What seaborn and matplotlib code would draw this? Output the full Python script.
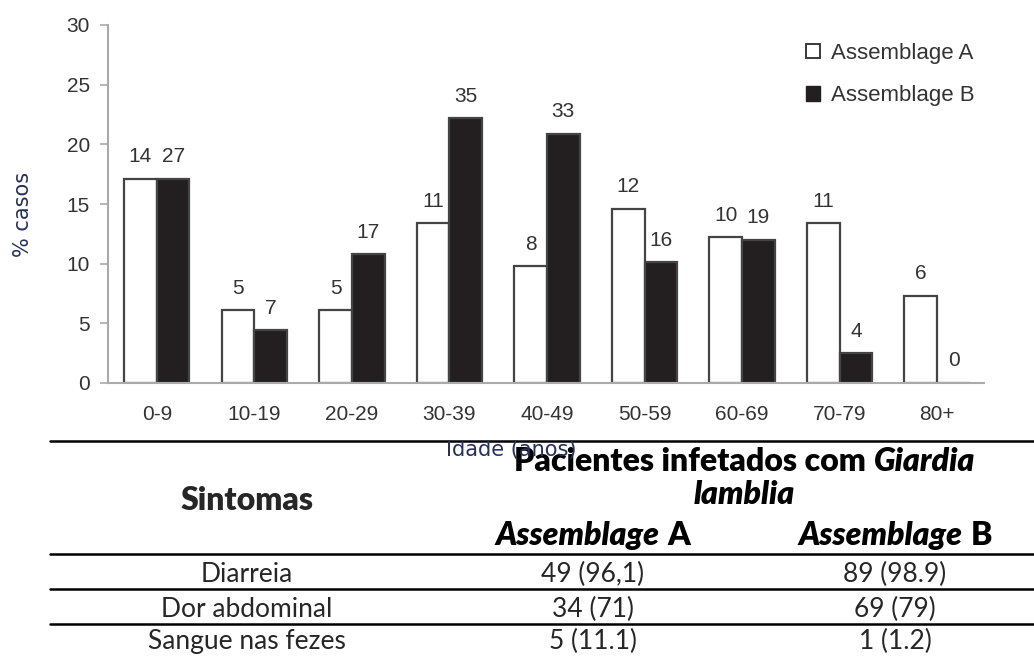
import matplotlib
matplotlib.use("Agg")
import matplotlib.pyplot as plt
import seaborn as sns
import pandas as pd
from matplotlib.patches import Patch
from matplotlib.lines import Line2D

# --- data ---
age_groups = ['0-9', '10-19', '20-29', '30-39', '40-49', '50-59', '60-69', '70-79', '80+']
pct_a = [17.1, 6.1, 6.1, 13.4, 9.8, 14.6, 12.2, 13.4, 7.3]
pct_b = [17.1, 4.4, 10.8, 22.2, 20.9, 10.1, 12.0, 2.5, 0.0]
n_a = [14, 5, 5, 11, 8, 12, 10, 11, 6]
n_b = [27, 7, 17, 35, 33, 16, 19, 4, 0]
series = ['Assemblage A', 'Assemblage B']

symptoms = ['Diarreia', 'Dor abdominal', 'Sangue nas fezes']
col_a = ['49 (96,1)', '34 (71)', '5 (11.1)']
col_b = ['89 (98.9)', '69 (79)', '1 (1.2)']

sns.set_theme(style='white')
plt.rcParams['font.family'] = ['Liberation Sans', 'DejaVu Sans']

W, H = 1034, 657
fig = plt.figure(figsize=(W / 100, H / 100), dpi=100)
ax = fig.add_axes([108 / W, 1 - 383 / H, (984 - 108) / W, (383 - 25) / H])

df = pd.DataFrame({
    'idade': age_groups * 2,
    'pct': pct_a + pct_b,
    'grupo': [series[0]] * len(age_groups) + [series[1]] * len(age_groups),
})
colors = {series[0]: 'white', series[1]: '#231f20'}
sns.barplot(data=df, x='idade', y='pct', hue='grupo', palette=colors, saturation=1,
            edgecolor='#444444', linewidth=1.6, width=0.67, gap=0, ax=ax, legend=False)

ax.bar_label(ax.containers[0], labels=[str(v) for v in n_a], padding=9, fontsize=15, color='#333333')
ax.bar_label(ax.containers[1], labels=[str(v) for v in n_b], padding=9, fontsize=15, color='#333333')

ax.set_xlim(-0.5, 8.48)
ax.set_ylim(0, 30)
ax.set_yticks(range(0, 31, 5))
sns.despine(ax=ax)
for s in ['left', 'bottom']:
    ax.spines[s].set_color('#aaaaaa')
    ax.spines[s].set_linewidth(1.5)
ax.tick_params(axis='y', left=True, length=6, width=1.2, color='#aaaaaa', labelsize=15,
               labelcolor='#333333', pad=7)
ax.tick_params(axis='x', length=0, labelsize=15, labelcolor='#333333', pad=16)

lab_col = '#26305a'
ax.set_xlabel('Idade (anos)', fontfamily='DejaVu Sans', fontsize=15, color=lab_col)
ax.xaxis.set_label_coords(0.46, -0.159)
ax.set_ylabel('% casos', fontfamily='DejaVu Sans', fontsize=15, color=lab_col)
ax.yaxis.set_label_coords(-0.086, 0.472)

handles = [Patch(facecolor='white', edgecolor='#3a3a3a', linewidth=1.4),
           Patch(facecolor='#231f20', edgecolor='#231f20')]
ax.legend(handles, series, loc='upper right', bbox_to_anchor=(1.0, 0.975), frameon=False,
          fontsize=16, handlelength=0.65, handleheight=0.65, labelspacing=0.95,
          handletextpad=0.5, borderaxespad=0, labelcolor='#333333')

# --- table below the chart (drawn in pixel coordinates) ---
tab = fig.add_axes([0, 0, 1, 1])
tab.set_xlim(0, W)
tab.set_ylim(H, 0)
tab.axis('off')
tab.set_zorder(-1)

for y in [441, 554, 589, 624]:
    tab.add_line(Line2D([50, W], [y, y], color='black', lw=1.8))

TF = 'Lato'
HW = 'heavy'
renderer = fig.canvas.get_renderer()


def runs(xc, yb, parts, size):
    # draw consecutive text pieces (text, style) centred on xc
    objs = []
    for txt, st in parts:
        objs.append(tab.text(0, yb, txt, fontfamily=TF, fontsize=size, fontweight=HW,
                             fontstyle=st, va='baseline', ha='left', color='black'))
    gap = size * 100 / 72 * 0.26
    widths = [o.get_window_extent(renderer).width for o in objs]
    total = sum(widths) + gap * (len(objs) - 1)
    x = xc - total / 2
    for o, w in zip(objs, widths):
        o.set_x(x)
        x += w + gap


hsize = 23
tab.text(247, 510, 'Sintomas', fontfamily=TF, fontsize=hsize, fontweight=HW,
         ha='center', va='baseline')
runs(745, 471, [('Pacientes infetados com', 'normal'), ('Giardia', 'italic')], hsize)
runs(744, 504, [('lamblia', 'italic')], hsize)
runs(593, 545, [('Assemblage', 'italic'), ('A', 'normal')], hsize)
runs(895, 545, [('Assemblage', 'italic'), ('B', 'normal')], hsize)

row_base = [582, 617, 649]
for yb, s, a, b in zip(row_base, symptoms, col_a, col_b):
    tab.text(247, yb, s, fontfamily=TF, fontsize=19, ha='center', va='baseline')
    tab.text(593, yb, a, fontfamily=TF, fontsize=19, ha='center', va='baseline')
    tab.text(895, yb, b, fontfamily=TF, fontsize=19, ha='center', va='baseline')

fig.savefig('out.png', dpi=100)
